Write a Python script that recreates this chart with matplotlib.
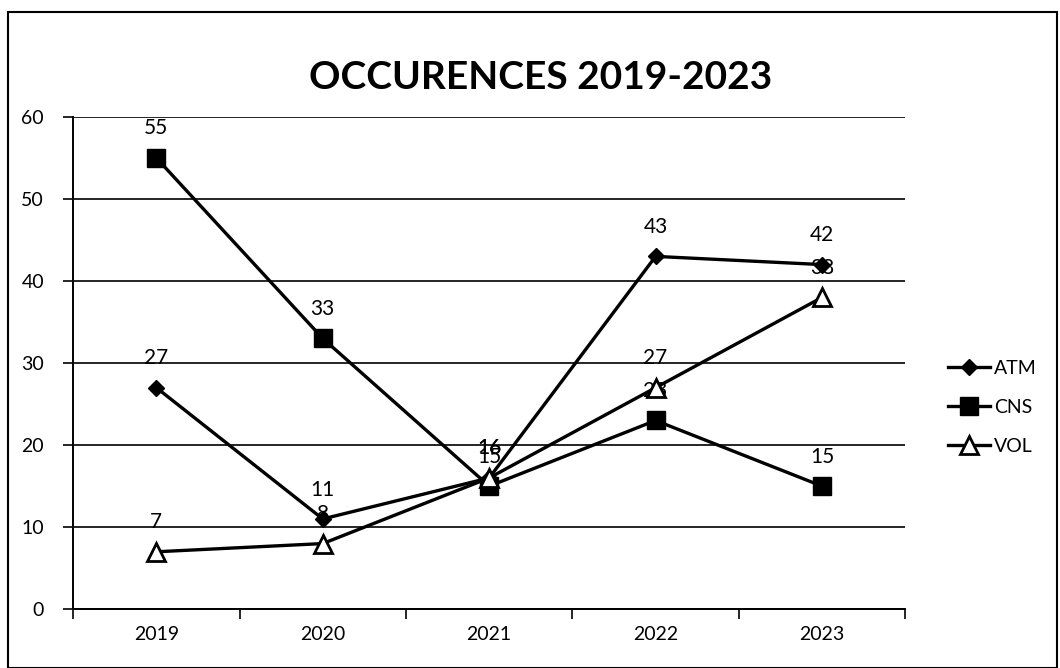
import matplotlib.pyplot as plt
from matplotlib.patches import Rectangle

years = ['2019', '2020', '2021', '2022', '2023']
atm = [27, 11, 16, 43, 42]
cns = [55, 33, 15, 23, 15]
vol = [7, 8, 16, 27, 38]

plt.rcParams['font.family'] = ['Lato', 'DejaVu Sans']

fig = plt.figure(figsize=(10.6, 6.68), dpi=100)
ax = fig.add_axes([0.069, 0.088, 0.785, 0.737])

x = list(range(len(years)))
ax.plot(x, atm, color='black', lw=2.4, marker='D', markersize=8, label='ATM', zorder=3)
ax.plot(x, cns, color='black', lw=2.4, marker='s', markersize=13, label='CNS', zorder=3)
ax.plot(x, vol, color='black', lw=2.4, marker='^', markersize=13, markerfacecolor='white',
        markeredgewidth=2, label='VOL', zorder=4)

for series in [atm, cns, vol]:
    for xi, v in zip(x, series):
        ax.annotate(str(v), (xi, v), xytext=(0, 14), textcoords='offset points',
                    ha='center', va='bottom', fontsize=15)

ax.set_xlim(-0.5, len(years) - 0.5)
ax.set_ylim(0, 60)
ax.set_yticks(range(0, 61, 10))
ax.set_xticks([i - 0.5 for i in range(len(years) + 1)], minor=False)
ax.set_xticklabels([])
ax.set_xticks(x, minor=True)
ax.set_xticklabels(years, minor=True, fontsize=14)
ax.tick_params(axis='x', which='minor', length=0, pad=12)
ax.tick_params(axis='x', which='major', length=7, direction='out', width=1.2)
ax.tick_params(axis='y', length=7, direction='out', width=1.2, labelsize=14, pad=14)
ax.grid(axis='y', color='black', lw=1.2)
ax.set_axisbelow(True)
for s in ['top', 'right']:
    ax.spines[s].set_visible(False)
ax.spines['left'].set_linewidth(1.4)
ax.spines['bottom'].set_linewidth(1.4)

fig.text(0.51, 0.884, 'OCCURENCES 2019-2023', ha='center', va='center',
         fontsize=28, fontweight='bold')

ax.legend(loc='center left', bbox_to_anchor=(1.03, 0.41), frameon=False, fontsize=14,
          handlelength=2.2, handletextpad=0.2, labelspacing=1.15)

fig.patches.append(Rectangle((0.008, 0.0), 0.989, 0.982, transform=fig.transFigure,
                             fill=False, edgecolor='black', lw=1.5))

fig.savefig('out.png', dpi=100)
